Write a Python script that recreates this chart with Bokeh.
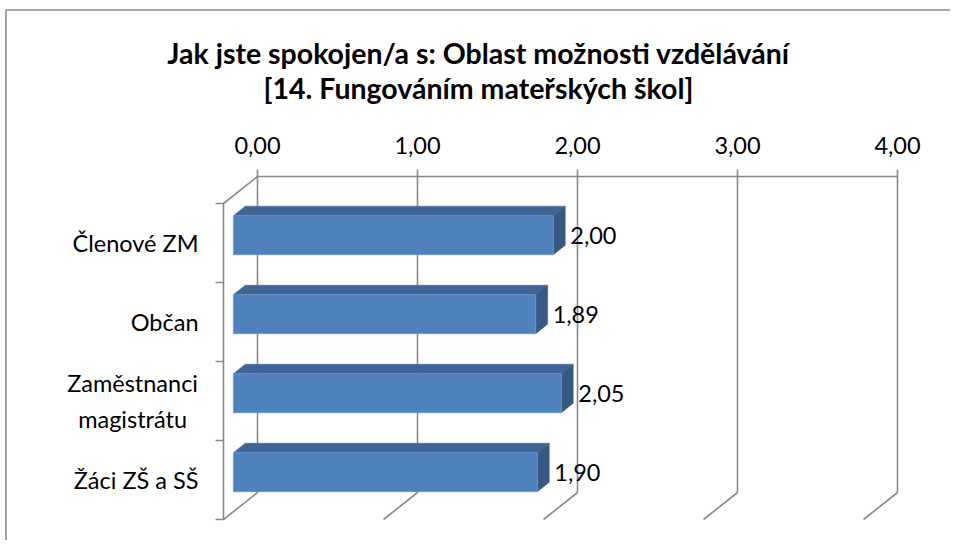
from bokeh.plotting import figure
from bokeh.models import Range1d, Label, ColumnDataSource
from bokeh.core.properties import value
from bokeh.embed import file_html
from bokeh.resources import INLINE

# ---------------- data ----------------
categories = ["Členové ZM", "Občan", "Zaměstnanci\nmagistrátu", "Žáci ZŠ a SŠ"]
values = [2.00, 1.89, 2.05, 1.90]
value_labels = ["2,00", "1,89", "2,05", "1,90"]
x_ticks = [0, 1, 2, 3, 4]
x_tick_labels = ["0,00", "1,00", "2,00", "3,00", "4,00"]
title_lines = ["Jak jste spokojen/a s: Oblast možnosti vzdělávání",
               "[14. Fungováním mateřských škol]"]

# ---------------- style / geometry ----------------
W, H = 950, 540
ORIGIN_X, ORIGIN_Y = 223, 519   # front-wall origin (pixels from top-left)
PX_X = 160.0          # pixels per value unit
PX_Y = 79.0           # pixels per category band
DX = 34 / PX_X        # depth offset (value units)
DY = 27 / PX_Y        # depth offset (band units)
T0, T1 = 0.29, 0.64   # bar depth (front / back)
HALF = 0.247          # half bar thickness (band units)
FONT = "Lato"
FS = 23.5
GRID = "#898989"
FRONT = "#4F81BD"
TOP = "#3E6594"
SIDE = "#375A82"

n = len(categories)
xmax = max(x_ticks)

x_range = Range1d(-ORIGIN_X / PX_X, (W - ORIGIN_X) / PX_X)
y_range = Range1d(-(H - ORIGIN_Y) / PX_Y, ORIGIN_Y / PX_Y)
p = figure(width=W, height=H, output_backend="svg", toolbar_location=None,
           x_range=x_range, y_range=y_range,
           min_border=0, min_border_left=0, min_border_right=0,
           min_border_top=0, min_border_bottom=0)
p.xaxis.visible = False
p.yaxis.visible = False
p.xgrid.visible = False
p.ygrid.visible = False
p.outline_line_color = None
p.background_fill_color = "white"
p.border_fill_color = "white"

# chart border (only top & left edges visible in reference)
bx = x_range.start + 5.5 / PX_X
by = y_range.end - 9.5 / PX_Y
p.line(x=[bx, bx, x_range.end + 1], y=[y_range.start - 1, by, by],
       line_color="#8c8c8c", line_width=1.6)

# ---------------- walls / gridlines ----------------
gx0, gy0, gx1, gy1 = [], [], [], []
for v in x_ticks:
    gx0.append(v + DX); gy0.append(DY); gx1.append(v + DX); gy1.append(n + DY)
    gx0.append(v + DX); gy0.append(DY); gx1.append(v); gy1.append(0)
    gx0.append(v + DX); gy0.append(n + DY); gx1.append(v + DX); gy1.append(n + DY + 7 / PX_Y)
gx0.append(DX); gy0.append(n + DY); gx1.append(xmax + DX); gy1.append(n + DY)
gx0.append(DX); gy0.append(n + DY); gx1.append(0); gy1.append(n)
gx0.append(0); gy0.append(0); gx1.append(0); gy1.append(n)
for k in range(n + 1):
    gx0.append(-8 / PX_X); gy0.append(k); gx1.append(0); gy1.append(k)
p.segment(x0=gx0, y0=gy0, x1=gx1, y1=gy1, line_color=GRID, line_width=1.6)

# ---------------- bars ----------------
yc = [n - 0.5 - i for i in range(n)]
front_src = ColumnDataSource(dict(
    left=[T0 * DX] * n,
    right=[v + T0 * DX for v in values],
    bottom=[c - HALF + T0 * DY for c in yc],
    top=[c + HALF + T0 * DY for c in yc]))
top_xs, top_ys, side_xs, side_ys = [], [], [], []
for v, c in zip(values, yc):
    yt0 = c + HALF + T0 * DY
    yt1 = c + HALF + T1 * DY
    top_xs.append([T0 * DX, v + T0 * DX, v + T1 * DX, T1 * DX])
    top_ys.append([yt0, yt0, yt1, yt1])
    side_xs.append([v + T0 * DX, v + T0 * DX, v + T1 * DX, v + T1 * DX])
    side_ys.append([c - HALF + T0 * DY, yt0, yt1, c - HALF + T1 * DY])
p.patches(xs=top_xs, ys=top_ys, fill_color=TOP, line_color=TOP, line_width=0.5)
p.patches(xs=side_xs, ys=side_ys, fill_color=SIDE, line_color=SIDE, line_width=0.5)
p.quad(left="left", right="right", bottom="bottom", top="top", source=front_src,
       fill_color=FRONT, line_color="#6A97CC", line_width=0.8)

# ---------------- texts ----------------
p.text(x=[v + T1 * DX for v in values], y=[c + T0 * DY for c in yc],
       text=value_labels, x_offset=5, text_align="left", text_baseline="middle",
       text_font=value(FONT), text_font_size=f"{FS}px", text_color="black")
p.text(x=[v + DX for v in x_ticks], y=[n + DY] * len(x_ticks), text=x_tick_labels,
       y_offset=-31, text_align="center", text_baseline="middle",
       text_font=value(FONT), text_font_size=f"{FS}px", text_color="black")

# category labels: single-line right aligned, multi-line block centred
cat_align, cat_off = [], []
for lab in categories:
    if "\n" in lab:
        est_w = max(len(s) for s in lab.split("\n")) * 0.51 * FS
        cat_align.append("center"); cat_off.append(-25 - est_w / 2)
    else:
        cat_align.append("right"); cat_off.append(-25)
cat_src = ColumnDataSource(dict(x=[0] * n, y=yc, text=categories,
                                align=cat_align, off=cat_off))
p.text(x="x", y="y", text="text", source=cat_src, x_offset="off", text_align="align",
       text_baseline="middle", text_line_height=1.32,
       text_font=value(FONT), text_font_size=f"{FS}px", text_color="black")

# title
for k, line in enumerate(title_lines):
    p.add_layout(Label(x=478, y=H - 52 - 35 * k, x_units="screen", y_units="screen",
                       text=line, text_align="center", text_baseline="middle",
                       text_font=FONT, text_font_style="bold",
                       text_font_size="28.5px", text_color="black"))

open("out.html", "w").write(file_html(p, INLINE))
